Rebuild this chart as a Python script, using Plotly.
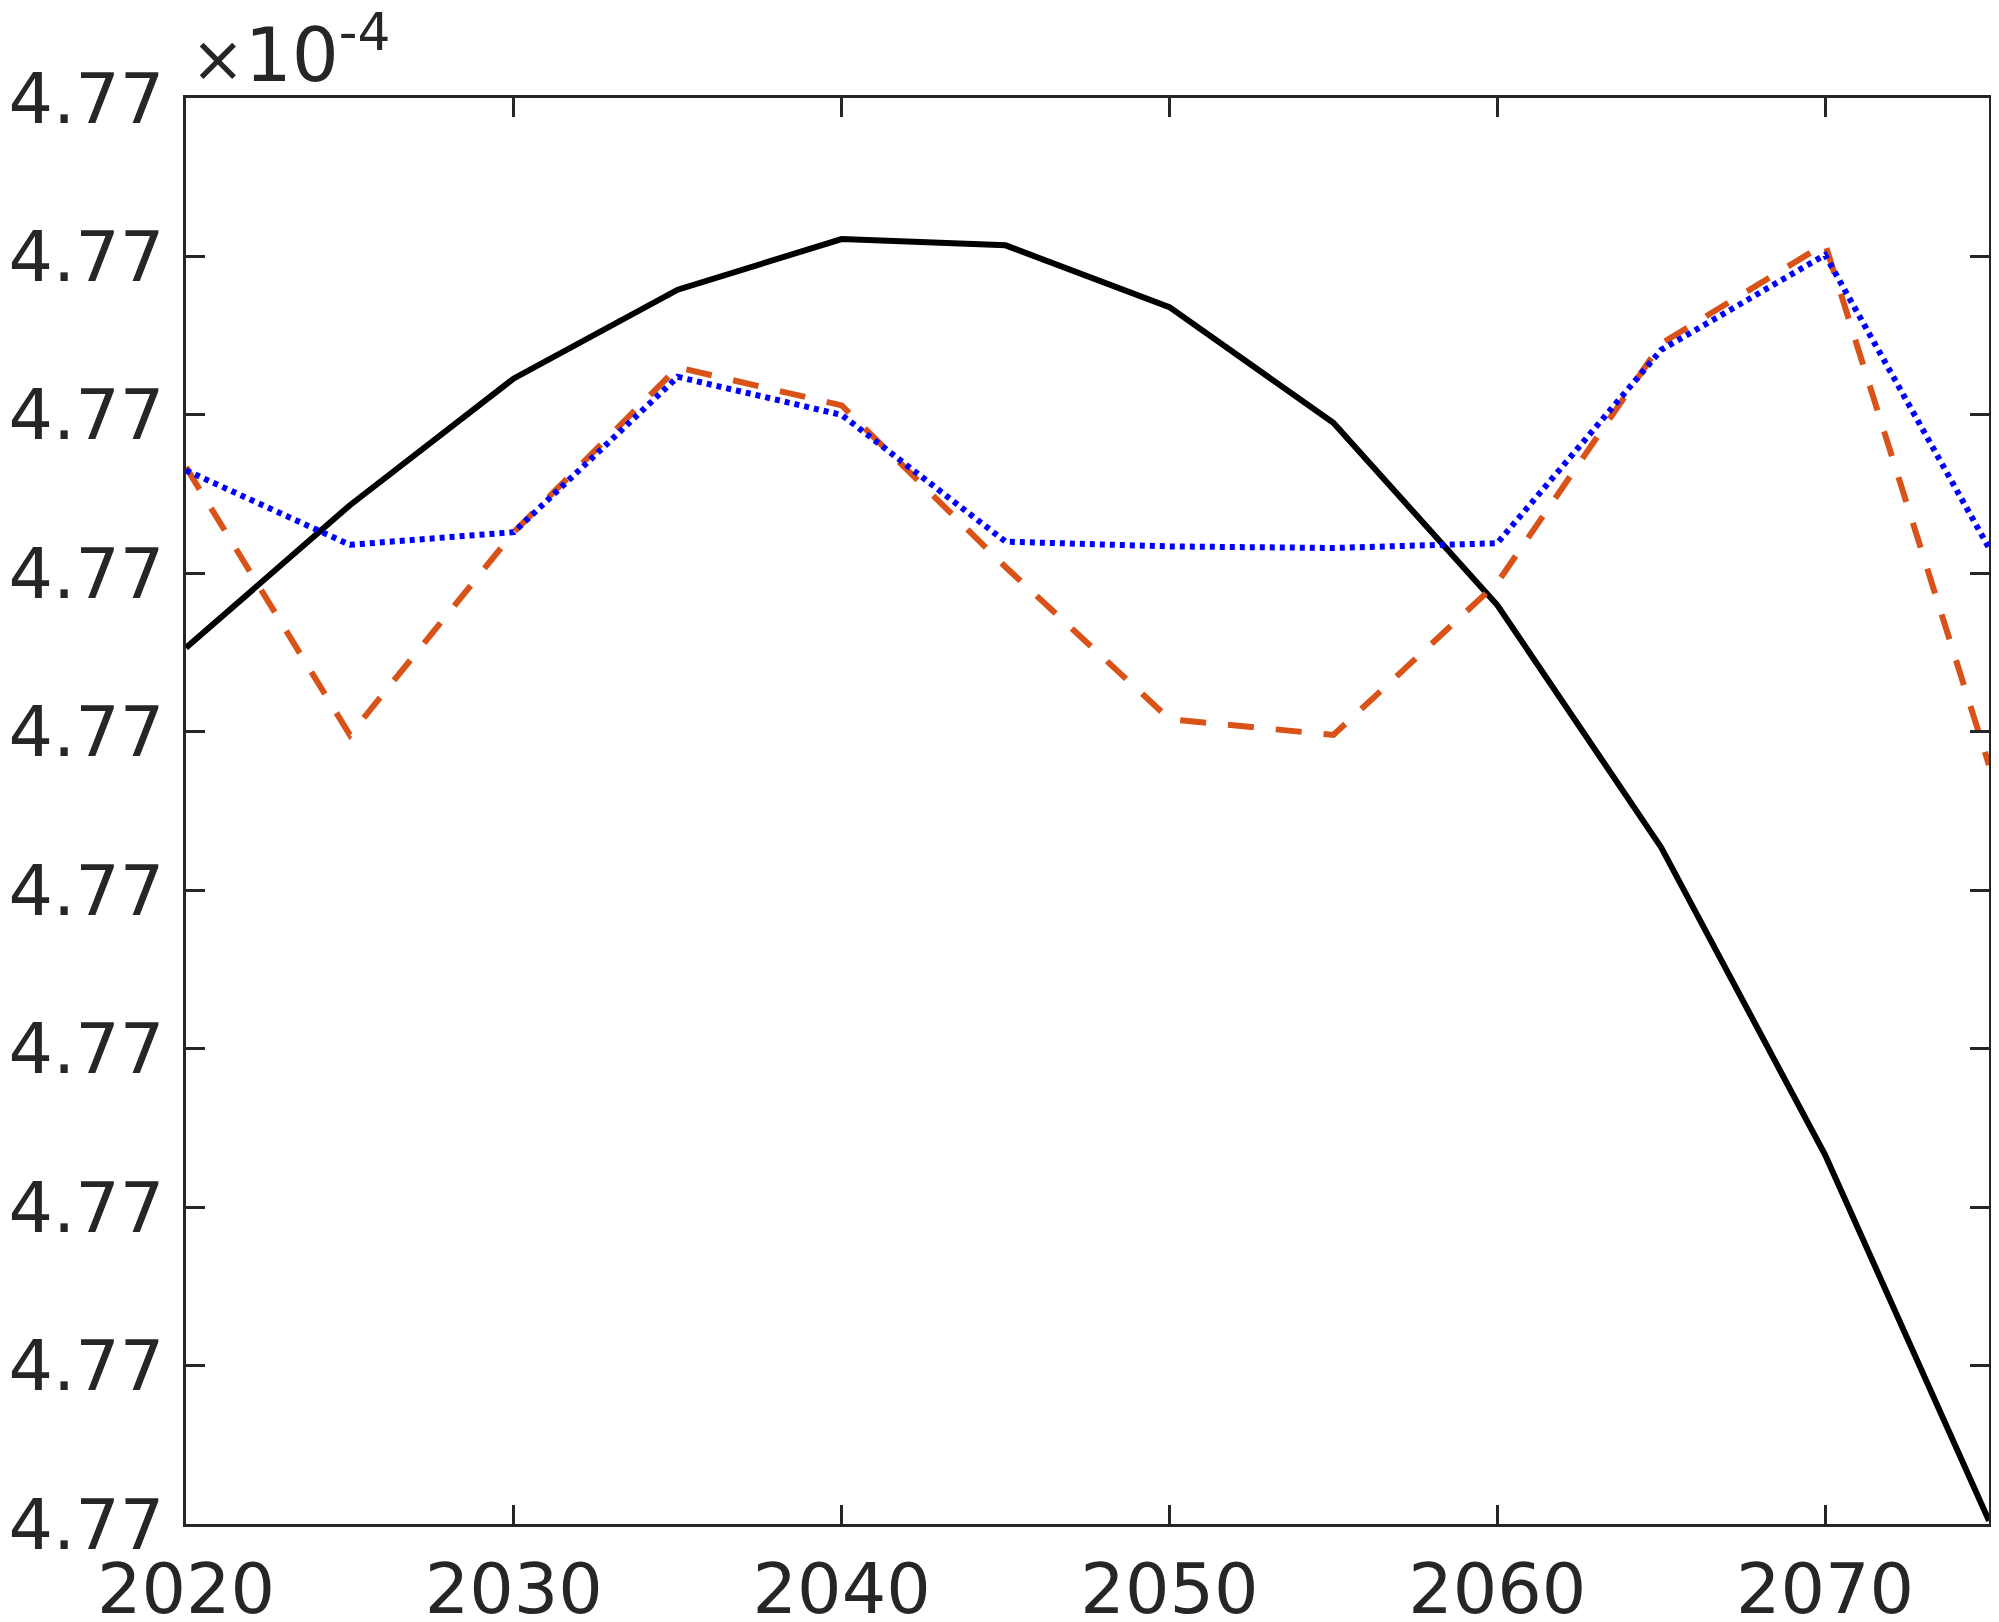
import plotly.graph_objects as go

# values in units of 1e-4
years = [2020, 2025, 2030, 2035, 2040, 2045, 2050, 2055, 2060, 2065, 2070, 2075]
black_vals = [4.770553, 4.770643, 4.770723, 4.770779, 4.770811, 4.770807,
              4.770768, 4.770695, 4.770580, 4.770427, 4.770233, 4.770002]
orange_vals = [4.770667, 4.770498, 4.770626, 4.770730, 4.770706, 4.770604,
               4.770508, 4.770498, 4.770594, 4.770745, 4.770808, 4.770479]
blue_vals = [4.770665, 4.770618, 4.770626, 4.770724, 4.770700, 4.770620,
             4.770617, 4.770616, 4.770619, 4.770741, 4.770801, 4.770616]
exponent_label = "<span style='font-size:64px'>×</span>10<sup>-4</sup>"

fig = go.Figure()
fig.add_trace(go.Scatter(x=years, y=black_vals, mode="lines",
                         line=dict(color="#000000", width=6)))
fig.add_trace(go.Scatter(x=years, y=orange_vals, mode="lines",
                         line=dict(color="#D95319", width=6, dash="26px,22px")))
fig.add_trace(go.Scatter(x=years, y=blue_vals, mode="lines",
                         line=dict(color="#0000FF", width=6, dash="5px,5px")))

axis_style = dict(
    showgrid=False, zeroline=False, automargin=False,
    showline=True, linecolor="#262626", linewidth=2.5, mirror="ticks",
    ticks="inside", ticklen=19, tickwidth=2.5, tickcolor="#262626",
    tickfont=dict(family="DejaVu Sans", size=70, color="#262626"),
)

fig.update_xaxes(range=[2020, 2075], tick0=2020, dtick=10, ticklabelstandoff=2, **axis_style)
fig.update_yaxes(range=[4.7700, 4.7709], tick0=4.7700, dtick=0.0001,
                 tickformat=".2f", ticklabelstandoff=5, **axis_style)

fig.add_annotation(text=exponent_label, xref="paper", yref="paper",
                   x=0.0, y=1.0, xanchor="left", yanchor="bottom",
                   xshift=3, yshift=-2, showarrow=False,
                   font=dict(family="DejaVu Sans", size=74, color="#262626"))

# page body has an 8px margin, so keep the figure inside the 1999x1622 window
fig.update_layout(
    width=1983, height=1606,
    margin=dict(l=178, r=2, t=90, b=90),
    paper_bgcolor="white", plot_bgcolor="white",
    showlegend=False,
)

fig.write_html("out.html")
